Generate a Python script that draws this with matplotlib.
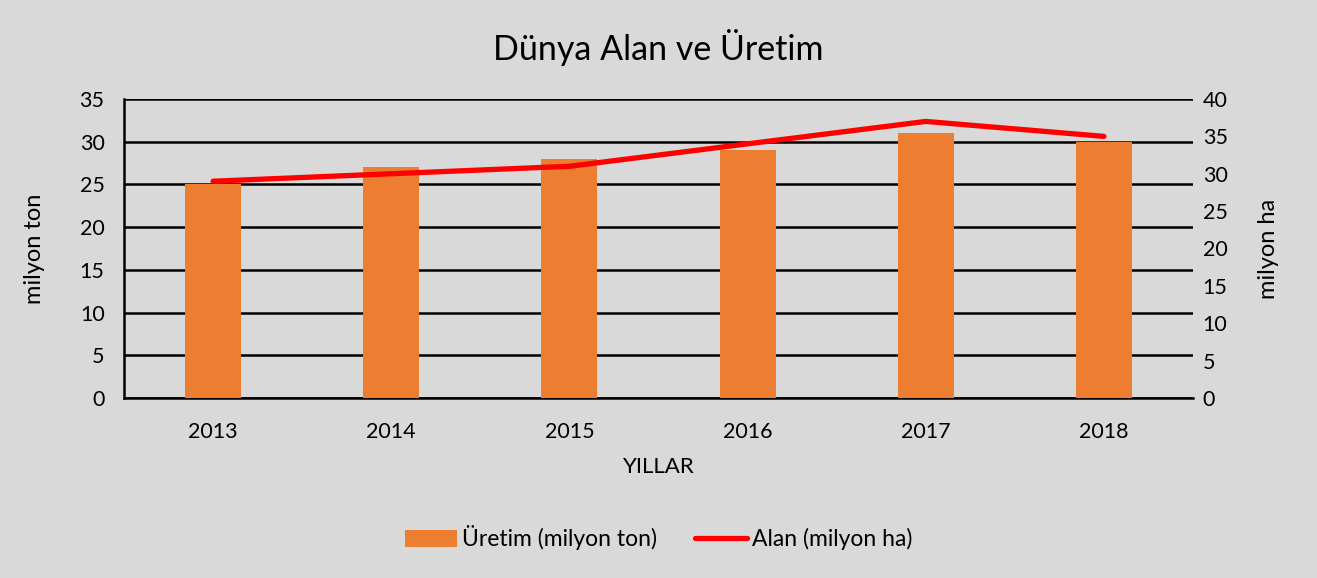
import numpy as np
import matplotlib
matplotlib.use('Agg')
from matplotlib import pyplot as plt

plt.rcParams['font.family'] = ['Lato', 'DejaVu Sans']

years = ['2013', '2014', '2015', '2016', '2017', '2018']
uretim = [25, 27, 28, 29, 31, 30]   # milyon ton
alan = [29, 30, 31, 34, 37, 35]     # milyon ha

bg = '#d9d9d9'
fig = plt.figure(figsize=(13.17, 5.78), dpi=100, facecolor=bg)
ax = fig.add_axes([124/1317, 180/578, (1193-124)/1317, (398-99)/578], facecolor=bg)

x = np.arange(len(years))
bars = ax.bar(x, uretim, width=0.315, color='#ED7D31', label='Üretim (milyon ton)', zorder=3)
ax.set_xlim(-0.5, len(years) - 0.5)
ax.set_ylim(0, 35)
ax.set_yticks(range(0, 36, 5))
ax.set_xticks(x)
ax.set_xticklabels(years)
ax.grid(axis='y', color='black', linewidth=1.8, zorder=0)
ax.set_axisbelow(True)
for s in ['top', 'right']:
	ax.spines[s].set_visible(False)
ax.spines['left'].set_linewidth(1.8)
ax.spines['bottom'].set_linewidth(1.8)
ax.tick_params(length=0, labelsize=15.5, pad=14)
ax.tick_params(axis='x', pad=17)
ax.set_ylabel('milyon ton', fontsize=17, labelpad=25)
ax.set_xlabel('YILLAR', fontsize=16, labelpad=11)

ax2 = ax.twinx()
line, = ax2.plot(x, alan, color='#ff0000', linewidth=3.8, solid_capstyle='round', label='Alan (milyon ha)', zorder=4)
ax2.set_ylim(0, 40)
ax2.set_yticks(range(0, 41, 5))
for s in ['top', 'right', 'left', 'bottom']:
	ax2.spines[s].set_visible(False)
ax2.tick_params(length=0, labelsize=15.5, pad=7)
ax2.set_ylabel('milyon ha', fontsize=17, labelpad=22)

fig.suptitle('Dünya Alan ve Üretim', fontsize=24.5, y=0.95)

fig.legend([bars, line], ['Üretim (milyon ton)', 'Alan (milyon ha)'], loc='center',
	bbox_to_anchor=(0.5, (578-538)/578), ncol=2, frameon=False, fontsize=16.5,
	handlelength=2.3, columnspacing=1.65, handletextpad=0.2)

fig.savefig('out.png', dpi=100, facecolor=bg)
